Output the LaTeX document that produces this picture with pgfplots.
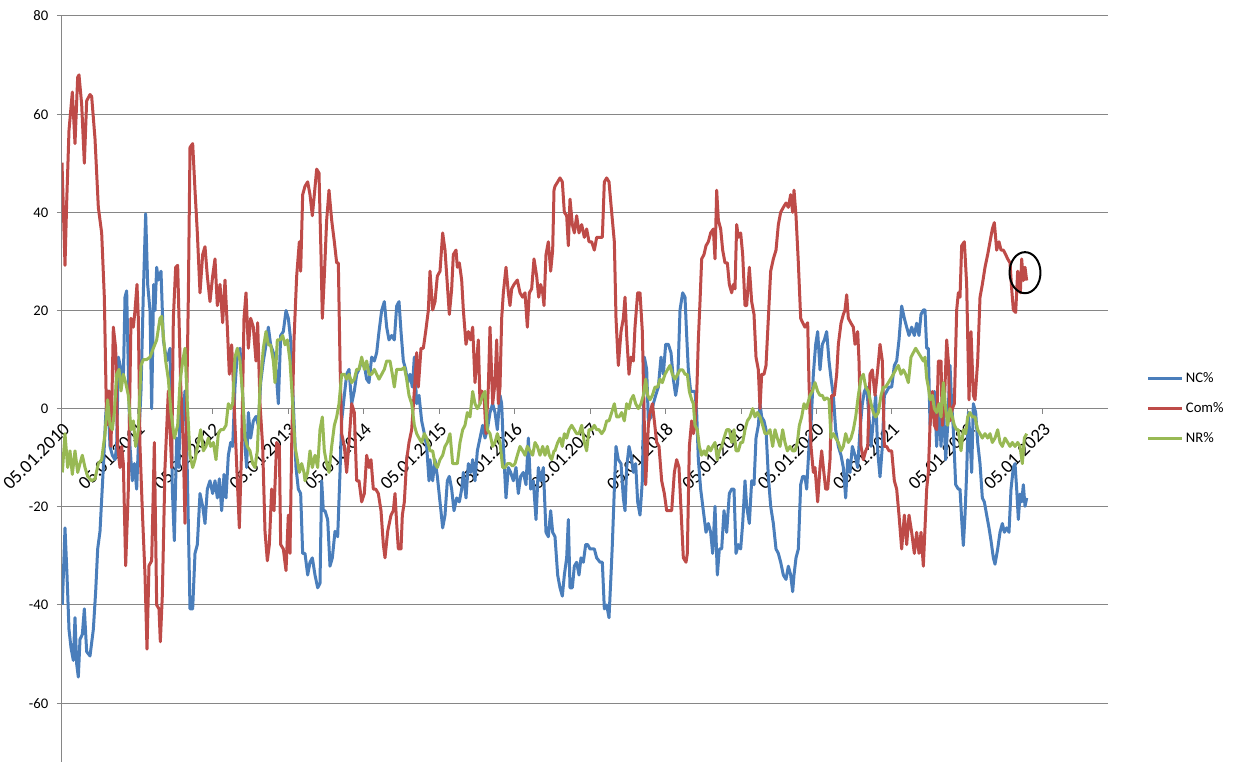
\documentclass[border=0pt]{standalone}
\usepackage{fontspec}
\setmainfont{Carlito}
\usepackage{pgfplots}
\usepackage{pgfplotstable}
\pgfplotsset{compat=1.18}
\definecolor{ncblue}{HTML}{4A7EBB}
\definecolor{comred}{HTML}{BE4B48}
\definecolor{nrgreen}{HTML}{98B954}
\definecolor{gridgray}{HTML}{868686}

% X = position (226.35 units per year from 05.01.2010)
\pgfplotstableread{
X Y
1 -40
9 -24.3
15 -33.9
21 -45
27 -48.7
34 -51.3
39 -42.6
44 -52
49 -54.7
54 -47
61 -46
67 -40.8
74 -49.5
84 -50.4
94 -45
101 -37.3
107 -28.6
114 -25
124 -12
131 -1.6
137 3.6
144 -7.7
151 -9.5
159 -10.4
164 -7.7
169 10.5
177 8
184 6
189 22.7
194 24
199 8
204 -7.7
211 -14.7
217 -11.2
224 -16.4
229 -7.7
237 3.6
244 23.6
251 39.7
257 25.3
264 20
269 0
275 25.3
279 20
284 28.8
289 26.2
297 28
304 14
314 9.7
324 12.3
331 -16.4
337 -26.9
344 -6
351 -12
354 2.7
362 -2.5
369 3.6
376 -13
384 -40.8
392 -40.8
399 -29.5
406 -27.7
414 -17.3
422 -19.9
429 -23.4
436 -16.4
444 -14.7
452 -17.3
459 -14.7
466 -18.2
472 -14.3
479 -20.8
486 -13.4
492 -18.2
499 -9.5
506 -6.9
512 -7.7
519 4.4
526 11.4
534 12.3
542 2.7
549 -7.7
554 -12
559 -0.8
566 -6
574 -2.5
582 -1.6
589 -3.4
596 5.3
604 9.7
612 13
619 16.6
626 13
634 11.4
642 8
649 1
656 14.9
664 15.7
672 20
679 18.4
686 14
694 1
702 -12
709 -16.4
716 -17.3
722 -29.5
729 -29.5
737 -33.9
744 -31.3
751 -30.4
759 -33.9
767 -36.5
774 -35.6
779 -14.7
784 -20.8
789 -20.8
797 -22.6
804 -32.1
811 -30.4
819 -25
827 -26.1
834 -13
839 -2.5
847 2.7
854 7
861 8
869 1
877 3.6
884 7
891 8
899 9.7
907 8.8
914 6
921 5.3
929 10.5
937 9.7
944 11.4
951 15.7
959 20
967 21.8
974 16.6
981 14
989 14.9
997 14
1004 20.9
1011 21.8
1017 15.7
1024 9.7
1031 8
1037 5.3
1044 7
1051 4.4
1057 10.5
1064 1
1071 2.7
1079 -2.5
1087 -5.1
1094 -7.7
1101 -14.7
1104 -10.4
1112 -14.7
1119 -10.4
1126 -13.8
1134 -19
1142 -24.3
1149 -21.7
1156 -14.7
1162 -13.8
1169 -16.4
1176 -20.8
1184 -18.2
1192 -19
1199 -16.4
1204 -13
1212 -18.2
1219 -11.2
1226 -13
1232 -10.4
1239 -14.7
1246 -8.6
1254 -6
1262 -3.4
1269 -6
1276 -4.3
1284 -0.8
1292 1
1299 -0.8
1306 -4.3
1314 2.7
1319 1
1324 -7.7
1332 -18.2
1339 -12
1346 -13
1354 -14.7
1362 -12
1369 -17.3
1376 -13.8
1384 -13
1392 -15.5
1399 -6
1406 -16.4
1414 -14.7
1422 -22.6
1429 -12
1436 -14.7
1444 -12
1452 -25.2
1459 -26.1
1466 -20.8
1472 -25.2
1479 -26.1
1487 -33.9
1494 -36.5
1501 -38.2
1507 -33.9
1514 -30.4
1519 -22.6
1524 -36.5
1531 -36.5
1537 -32.1
1544 -31.3
1551 -33.9
1557 -30.4
1564 -31.3
1571 -27.7
1577 -27.7
1584 -28.6
1591 -28.6
1597 -28.6
1604 -30.4
1614 -31.3
1621 -31.3
1627 -40.8
1634 -40
1641 -42.6
1647 -33.9
1651 -27.7
1657 -16.4
1662 -7.7
1669 -10.4
1677 -11.2
1684 -18.2
1689 -20.8
1694 -12
1701 -7.7
1707 -9.5
1714 -13
1721 -11.2
1727 -19
1734 -21.7
1741 -14.7
1747 10.5
1754 8
1759 -2.5
1767 -1.7
1774 1
1781 2.7
1789 4.4
1797 10.5
1804 7
1811 13.1
1819 13.1
1827 11.4
1834 6
1841 2.7
1847 5.3
1854 20.1
1862 23.6
1869 22.7
1874 14.9
1879 7.9
1886 3.5
1894 3.5
1899 3.5
1904 -0.8
1909 -10.4
1916 -16.4
1924 -20.8
1932 -25.2
1939 -23.4
1946 -25.2
1952 -29.5
1959 -19.9
1966 -33.9
1972 -28.6
1979 -28.6
1986 -20.8
1994 -25.2
2002 -17.3
2009 -16.4
2016 -16.4
2022 -29.5
2029 -27.7
2036 -28.6
2042 -23.4
2049 -14.7
2054 -19.9
2062 -23.4
2069 -14.7
2076 -15.5
2082 -6
2089 -3.4
2094 1
2099 -1.7
2106 -2.5
2112 -4.3
2119 -13.8
2126 -19.9
2134 -23.4
2142 -28.6
2149 -29.5
2156 -31.3
2164 -33.9
2172 -34.8
2179 -32.1
2186 -33.9
2192 -37.3
2196 -33.9
2202 -30.4
2209 -28.6
2216 -15.5
2222 -13.8
2229 -13.9
2234 -16.4
2241 -7.7
2247 -3.4
2254 7
2261 13.1
2267 15.7
2274 7.9
2281 13.1
2287 14
2294 15.7
2301 9.7
2307 6.2
2314 2.7
2321 -4.3
2329 -7.7
2337 -9.5
2344 -12
2351 -18.2
2357 -10.4
2364 -13
2371 -7.7
2379 -9.5
2387 -12
2394 -4.3
2401 1
2407 3.5
2414 4.4
2421 -1.7
2427 -7.7
2434 -2.5
2441 2.7
2447 -8.6
2454 -13.9
2461 -7.7
2467 2.7
2474 3.5
2481 4.4
2489 4.4
2497 8.8
2504 9.7
2511 14
2519 20.9
2527 18.4
2534 16.6
2541 14.9
2549 16.6
2557 14.9
2564 17.4
2571 14.9
2577 19.2
2584 20.1
2589 20.1
2594 12.3
2599 12.3
2604 -3.4
2611 2.7
2617 3.5
2624 -7.7
2631 1
2637 -7.7
2644 1
2651 -10.4
2657 -3.4
2664 8.8
2669 1
2674 -4.3
2681 -15.5
2689 -16.4
2694 -16.4
2699 -22.6
2704 -27.9
2709 -21.7
2714 -13
2719 -0.8
2724 -6
2729 -13
2734 1
2741 -0.8
2747 -6.9
2754 -11.2
2761 -18.2
2767 -19
2774 -21.7
2781 -24.3
2787 -26.9
2794 -30.4
2799 -31.7
2807 -28.6
2814 -25.2
2821 -23.4
2827 -25.2
2834 -24.3
2841 -25.2
2847 -16.4
2854 -12
2859 -11.2
2864 -16.4
2869 -22.6
2874 -17.4
2879 -19
2884 -15.5
2889 -19.9
2894 -18.2
}\ncdata

\pgfplotstableread{
X Y
0 50.1
9 29.2
14 41.9
21 56.7
31 64.5
39 54
47 67.5
51 68
59 62
67 50
74 62.7
84 64
89 63.6
99 55
109 41
119 35.8
127 22.7
134 -3.4
141 3.6
147 -7.7
154 16.6
161 12.3
167 -7.7
174 -12
179 -7.7
184 -11.2
191 -32
199 -16.4
207 18.4
214 16.6
219 20
225 25.3
229 18.4
234 -7.7
241 -20.8
249 -33.9
255 -49
261 -32
269 -31
274 -16.4
277 -6.9
284 -40
291 -40.8
295 -47.5
301 -38
309 -12
319 3.6
329 -12
334 18.4
341 28.8
347 29.2
356 5
364 -7.7
369 -23.4
374 1
379 22.7
384 53.2
392 54
399 44.5
406 35.8
414 23.6
422 31.4
429 33
436 27
444 21.8
452 27
459 30.5
466 21
474 25.3
482 17.5
489 26.2
496 16.6
502 7
509 13
514 5.3
519 -3.4
526 -14.7
532 -24.3
539 -7.7
546 18.4
552 23.6
559 12.3
566 18.4
574 16.6
582 9.7
587 17.5
594 1
602 -7.7
609 -25
616 -31
622 -27.7
629 -16.4
636 -20.8
644 -6.9
652 -7.7
656 -27.7
664 -28.6
672 -33
679 -21.7
684 -29.5
689 -7.7
696 14
704 27
712 34
716 28
722 43.6
729 45.3
737 46.2
744 43.6
751 39.3
757 43.6
764 48.8
771 48
777 31.4
781 18.4
787 27
794 38.4
801 44.5
809 38.4
817 34
824 29.7
829 29.7
834 9.7
839 -5.1
847 -7.7
854 -13
861 -6.9
869 1
877 -0.8
884 -14.7
891 -14.7
899 -19
907 -17.3
914 -9.5
921 -12
927 -10.4
934 -16.4
941 -16.4
949 -17.3
957 -20.8
964 -27.7
969 -30.4
977 -25
987 -21.7
994 -20.8
999 -17.3
1004 -23.4
1009 -28.6
1017 -28.6
1021 -21.7
1027 -19
1034 -10.4
1041 -6.9
1049 -4.3
1057 3.6
1064 11.4
1069 4.4
1077 12.3
1084 12.3
1091 15.7
1099 20
1104 28
1112 20.1
1119 21.8
1126 27
1134 28
1142 35.8
1149 32.3
1156 25.3
1162 19.2
1169 24.4
1174 31.4
1182 32.3
1186 28.8
1192 29.7
1199 26.2
1204 20.1
1212 13.1
1219 15.7
1226 14
1232 16.6
1239 5.3
1244 9.7
1249 14
1254 1
1259 3.6
1266 2.7
1272 -5.1
1279 4.4
1284 16.6
1292 1
1299 5.3
1304 14
1309 1
1314 4.4
1319 18.4
1324 23.6
1332 28.8
1339 23.6
1344 21
1349 24.4
1356 25.3
1366 26.2
1374 23.6
1382 22.7
1389 23.6
1396 16.6
1402 23.6
1409 24.4
1416 30.5
1424 27
1430 22.7
1436 25.3
1442 23.6
1446 21
1452 31.4
1459 34
1466 28
1472 32.3
1476 44.5
1479 45.3
1487 46.2
1494 47
1501 46.2
1507 40
1514 39.3
1519 33.2
1524 42.7
1531 37.5
1537 35.8
1544 39.3
1551 35.8
1559 37.5
1567 34.9
1574 36.6
1581 34
1589 34
1597 32.3
1604 34.9
1621 34.9
1627 46.2
1634 47
1641 46.2
1649 40
1657 34
1662 18.4
1669 8.8
1677 15.7
1684 18.4
1689 22.7
1694 14.9
1701 7
1707 10.5
1714 9.7
1719 16.6
1727 23.6
1734 23.6
1741 15.7
1747 -3.4
1751 -15.5
1759 -3.4
1764 -0.8
1771 1
1777 -2.5
1784 -6.9
1791 -7.7
1799 -14.7
1807 -17.3
1814 -20.8
1829 -20.8
1837 -13
1844 -10.4
1851 -12
1859 -23.4
1864 -30.4
1872 -31.3
1876 -29.5
1882 -7.7
1889 -2.5
1894 -5.1
1899 -3.4
1904 2.7
1909 14
1914 21.8
1919 30.5
1926 31.4
1932 33.2
1939 34
1946 35.8
1954 36.6
1959 30.5
1964 44.5
1969 38.4
1976 36.6
1982 32.3
1989 29.7
1996 29.7
2002 25.3
2009 23.6
2014 25.3
2019 24.4
2024 37.5
2029 34.9
2036 35.8
2042 31.4
2049 21
2054 21
2062 28.8
2069 21.8
2076 19.2
2082 10.5
2089 7.9
2094 0
2099 7
2106 7
2112 8.8
2119 18.4
2126 28
2134 30.5
2142 32.3
2149 37.5
2156 40
2164 41
2172 41.9
2179 41
2186 43.6
2192 40
2196 44.5
2202 39.3
2209 29.7
2216 18.4
2222 17.5
2229 16.6
2237 17.5
2241 5.3
2247 -7.7
2254 -13
2259 -12
2267 -19
2274 -12
2279 -8.6
2284 -12
2291 -16.4
2297 -16.4
2304 -10.4
2309 2.7
2317 2.7
2324 7
2329 13.1
2337 17.4
2344 19.2
2349 20.1
2354 23.2
2359 18.4
2367 17.4
2374 16.6
2379 13.1
2387 15.7
2391 9.7
2397 -7.7
2404 -10.4
2411 -8.6
2417 -7.7
2424 7
2431 7.9
2439 2.7
2447 7.9
2454 13.1
2461 9.7
2467 -7.7
2474 -7.7
2481 -8.6
2489 -8.6
2497 -14.7
2504 -16.4
2511 -21.7
2519 -28.6
2527 -21.7
2534 -27.7
2541 -21.7
2549 -25.2
2557 -29.5
2564 -25.2
2571 -29.5
2577 -25.2
2584 -32.1
2594 -16.4
2599 -13
2604 -3.4
2611 3.5
2617 -3.4
2624 -4.3
2629 9.7
2637 9.7
2641 -3.4
2647 1
2654 14
2659 9.7
2664 -2.5
2671 0
2677 1
2684 20.1
2689 23.6
2694 22.7
2699 33.2
2707 34
2714 25.3
2717 14.9
2721 1.8
2727 15.7
2734 2.7
2739 1.8
2747 9.7
2754 22.7
2761 25.3
2769 28.8
2777 31.4
2784 34
2791 36.6
2797 37.9
2804 32.3
2811 34
2817 32.3
2824 32.3
2831 31.4
2837 30.5
2844 29.7
2849 24.4
2854 20.1
2861 19.6
2867 28
2871 25.3
2875 23.6
2879 30.5
2884 26.1
2889 28.8
2894 26.1
}\comdata

\pgfplotstableread{
X Y
1 -13
9 -5.1
17 -12
24 -8.6
31 -13.4
39 -8.6
47 -13
54 -11.2
61 -9.5
69 -12
77 -13.8
89 -14.7
99 -14.3
109 -11.2
119 -10.4
129 -5.1
137 1.8
144 -3.4
151 -4.3
157 -0.8
164 7
171 8
177 3.6
184 7
191 5.3
199 2.7
207 -4.3
214 -2.5
221 -7.7
229 -4.3
237 8.8
244 10
254 10
264 10.5
274 12.3
284 14
294 18.4
299 18.8
304 14.9
311 9.7
319 6
327 -0.8
337 -6
347 -3.4
354 5.3
362 9.7
369 12.3
376 1
384 -9.5
392 -12
399 -10.4
409 -6.9
416 -4.3
424 -8.6
432 -7.7
439 -6
446 -7.7
454 -6.9
462 -10.4
469 -5.1
476 -4.3
484 -4.3
492 -3.4
499 1
506 0
512 1
519 10.5
526 12.3
534 9.7
542 2.7
549 -6
556 -7.7
564 -8.6
572 -11.2
579 -12
586 -8.6
594 4.4
604 12.3
612 15.7
619 13
626 13
634 9.7
639 5.3
646 14
654 14
662 14.9
669 13
676 14
684 9.7
692 1
699 -7.7
706 -10.4
712 -13
719 -11.2
726 -13
729 -14.7
737 -13
744 -8.6
751 -12
759 -9.5
767 -12
774 -4.3
781 -1.7
787 -8.6
794 -11.2
801 -13
809 -7.7
817 -3.4
824 -1.7
831 1
839 7
847 7
854 6
861 7
869 5.3
877 6
884 8
891 8
899 10.5
907 8
914 9.7
921 7
929 7
937 8
944 7
951 6
959 7
967 8
974 9.7
984 9.7
991 7
997 4.4
1004 8
1011 8
1019 8
1027 8.4
1034 6
1041 2.7
1049 1
1057 -3.4
1064 -5.1
1071 -6
1079 -6.9
1087 -5.1
1094 -6
1101 -7.7
1104 -8.6
1112 -8.6
1119 -11.2
1126 -12
1134 -10.4
1142 -9.5
1149 -7.7
1156 -6.9
1164 -5.1
1172 -11.2
1179 -11.2
1186 -11.2
1194 -6.9
1202 -4.3
1209 -3.4
1216 -0.8
1224 -1.7
1232 3.5
1239 1
1246 0
1254 1
1262 2.7
1269 3.5
1276 -4.3
1284 -5.1
1292 -7.7
1299 -6.9
1306 -5.1
1314 -6.9
1322 -12
1329 -12
1336 -11.2
1344 -11.2
1352 -11.7
1359 -11.2
1366 -9.5
1374 -7.7
1382 -8.6
1389 -9.5
1396 -7.7
1404 -8.6
1412 -9.5
1419 -6.9
1426 -7.7
1434 -9.5
1442 -7.7
1449 -9.5
1456 -7.7
1462 -9.5
1469 -10.4
1476 -8.6
1479 -8.6
1487 -6.9
1494 -6
1501 -7.7
1507 -5.1
1514 -6
1521 -4.3
1529 -3.4
1537 -4.3
1544 -5.1
1551 -5.1
1559 -3.4
1567 -6.9
1574 -8.6
1581 -4.3
1589 -4.3
1597 -3.4
1604 -4.3
1611 -4.3
1619 -5.1
1627 -4.3
1634 -2.5
1641 -2.5
1649 -0.8
1657 1
1664 -1.7
1671 -1.7
1679 -0.8
1687 -2.5
1694 1
1701 0
1707 1.8
1714 2.7
1721 1
1729 0
1737 1
1744 2.7
1751 6
1757 2.7
1764 1.8
1771 2.7
1779 4.4
1787 4.4
1794 6
1801 5.3
1809 7
1817 8
1824 8.8
1831 7
1839 6
1847 7
1854 7.9
1862 7.9
1869 7
1876 7
1882 3.5
1889 1.8
1894 1
1899 -3.4
1906 -4.3
1912 -7.7
1919 -9.5
1926 -8.6
1932 -9.5
1939 -7.7
1946 -8.6
1952 -7.7
1959 -6.9
1966 -10.4
1972 -8.6
1979 -7.7
1986 -6
1994 -4.3
2002 -4.3
2009 -6.9
2016 -4.3
2022 -8.6
2029 -8.6
2036 -6.9
2042 -6.9
2049 -4.3
2056 -2.5
2064 -1.7
2072 0
2079 -1.7
2086 -0.8
2094 -1.7
2102 -3.4
2109 -5.1
2116 -5.1
2124 -4.3
2132 -7.7
2139 -4.3
2146 -6
2154 -7.7
2162 -4.3
2169 -6.9
2176 -8.6
2184 -7.7
2192 -8.6
2199 -8.6
2206 -6.9
2212 -3.4
2219 -1.7
2226 1
2233 0
2244 2.7
2251 3.5
2259 5.3
2267 3.5
2274 2.7
2281 2.7
2287 1.8
2294 2.2
2301 1.8
2307 -6
2314 -5.1
2321 -6
2329 -6.9
2337 -8.6
2344 -7.7
2351 -5.1
2359 -6.9
2367 -6
2374 -4.3
2381 -1.7
2389 2.7
2397 6.2
2404 7
2411 4.4
2419 3.5
2427 1
2434 -0.8
2441 -1.7
2449 -0.8
2457 2.7
2464 4.4
2471 4.4
2479 5.3
2487 6.2
2494 7
2501 7.9
2509 8.8
2517 7
2524 7.9
2531 7
2539 5.3
2547 10.5
2554 11.4
2561 12.3
2569 11.4
2577 10.5
2584 9.7
2589 10.5
2594 6.2
2599 4.4
2604 1.8
2611 2.7
2617 0
2624 -0.8
2631 1
2637 -1.7
2644 5.3
2651 0
2657 -3.4
2664 0
2671 -1.7
2677 -3.4
2684 -4.3
2689 -4.3
2697 -8.6
2704 -4.3
2711 -5.1
2717 -1.7
2724 -0.8
2731 -1.7
2739 -1.7
2747 -4.3
2754 -5.1
2761 -6
2769 -5.1
2777 -6
2784 -5.1
2791 -6.9
2799 -6
2807 -4.3
2814 -6.9
2821 -7.7
2829 -6
2837 -6.9
2844 -7.7
2851 -6.9
2859 -7.7
2867 -6.9
2874 -7.7
2881 -11.2
2887 -6
2894 -5.1
}\nrdata

\begin{document}
\begin{tikzpicture}
\begin{axis}[
  name=ax,
  scale only axis,
  width=784.5pt, height=559.5pt,
  xmin=0, xmax=3138,
  ymin=-72, ymax=80,
  axis x line=middle,
  axis y line=left,
  hide obscured x ticks=false,
  axis line style={-, draw=gridgray, line width=0.75pt},
  ytick={-60,-40,-20,0,20,40,60,80},
  xtick={0,226.35,452.7,679.05,905.4,1131.75,1358.1,1584.45,1810.8,2037.15,2263.5,2489.85,2716.2,2942.55},
  xticklabels={05.01.2010,05.01.2011,05.01.2012,05.01.2013,05.01.2014,05.01.2015,05.01.2016,05.01.2017,05.01.2018,05.01.2019,05.01.2020,05.01.2021,05.01.2022,05.01.2023},
  ymajorgrids,
  major grid style={draw=gridgray, line width=0.75pt},
  tick align=outside,
  major tick length=3.75pt,
  tick style={draw=gridgray, line width=0.75pt},
  /pgf/number format/assume math mode=true,
  yticklabel style={font=\fontsize{11}{13}\selectfont, text=black, xshift=-3pt},
  xticklabel style={font=\fontsize{14}{16}\selectfont, text=black, rotate=45, anchor=east, yshift=-9pt, xshift=-1pt},
  legend style={at={(rel axis cs:1,0.4737)}, anchor=west, xshift=28pt, draw=none, fill=none,
    font=\fontsize{11}{13}\selectfont, row sep=9.5pt, inner sep=1pt},
  legend cell align=left,
  legend image code/.code={\draw[#1, line width=2.25pt] (0pt,0pt) -- (25pt,0pt);},
  every axis plot/.append style={line width=2.25pt, line join=round},
]
\addplot[ncblue, no markers] table[x=X, y=Y] {\ncdata};
\addlegendentry{NC\%}
\addplot[comred, no markers] table[x=X, y=Y] {\comdata};
\addlegendentry{Com\%}
\addplot[nrgreen, no markers] table[x=X, y=Y] {\nrdata};
\addlegendentry{NR\%}
\draw[black, line width=1.5pt] (axis cs:2889,27.7) ellipse [x radius=11.6pt, y radius=15.4pt];
\end{axis}
\pgfresetboundingbox
\path ([xshift=-46.5pt]ax.south west) rectangle ([xshift=99.75pt, yshift=12pt]ax.north east);
\end{tikzpicture}
\end{document}
